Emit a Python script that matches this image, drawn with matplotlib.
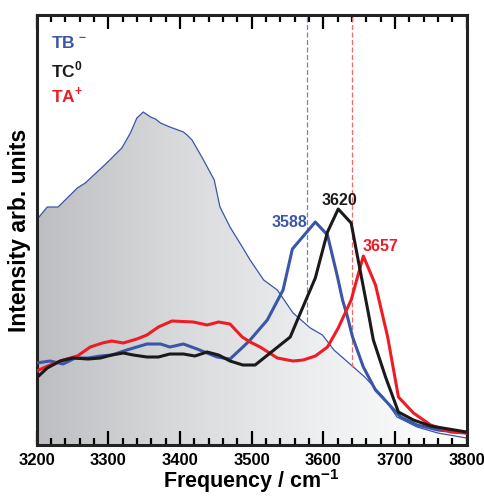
import numpy as np
import matplotlib
matplotlib.use("Agg")
import matplotlib.pyplot as plt
from matplotlib.colors import LinearSegmentedColormap

plt.rcParams['font.family'] = ['Liberation Sans', 'DejaVu Sans']
plt.rcParams['font.weight'] = 'bold'
plt.rcParams['mathtext.fontset'] = 'custom'
plt.rcParams['mathtext.rm'] = 'Liberation Sans:bold'
plt.rcParams['mathtext.bf'] = 'Liberation Sans:bold'

# broad background spectrum (thin blue, filled)
bg_freq = [3200, 3215, 3230, 3257, 3268, 3298, 3319, 3331, 3340, 3349, 3359, 3366,
           3373, 3386, 3405, 3410, 3417, 3433, 3448, 3456, 3470, 3488, 3498, 3517,
           3536, 3558, 3582, 3599, 3615, 3639, 3658, 3684, 3703, 3731, 3760, 3800]
bg_int = [225, 238, 238, 257, 262, 282, 297, 312, 327, 333, 328, 326,
          322, 318, 313, 310, 305, 285, 265, 238, 218, 197, 185, 165,
          155, 132, 117, 110, 95, 80, 68, 48, 28, 18, 12, 7]

# TB- (blue)
tb_freq = [3200, 3219, 3237, 3254, 3272, 3289, 3305, 3326, 3354, 3373, 3386, 3405,
           3424, 3452, 3470, 3488, 3498, 3522, 3544, 3557, 3589, 3606, 3620, 3627,
           3634, 3641, 3656, 3673, 3690, 3708, 3731, 3760, 3800]
tb_int = [82, 84, 81, 87, 87, 89, 90, 95, 101, 101, 98, 101,
          96, 88, 86, 98, 105, 125, 155, 196, 223, 210, 168, 145,
          128, 108, 78, 55, 42, 28, 20, 15, 12]

# TC0 (black)
tc_freq = [3200, 3215, 3233, 3251, 3272, 3289, 3305, 3321, 3335, 3354, 3370, 3386,
           3405, 3421, 3438, 3454, 3470, 3488, 3505, 3526, 3554, 3564, 3589, 3606,
           3621, 3639, 3648, 3663, 3670, 3687, 3705, 3726, 3750, 3800]
tc_int = [67, 77, 84, 87, 86, 87, 90, 92, 90, 88, 88, 91,
          91, 89, 93, 90, 84, 80, 80, 92, 108, 125, 167, 213,
          236, 222, 188, 132, 105, 68, 33, 25, 19, 13]

# TA+ (red)
ta_freq = [3200, 3219, 3237, 3257, 3275, 3292, 3305, 3321, 3340, 3354, 3370, 3389,
           3419, 3438, 3454, 3470, 3487, 3498, 3512, 3536, 3558, 3572, 3589, 3606,
           3621, 3639, 3656, 3673, 3690, 3705, 3726, 3750, 3778, 3800]
ta_int = [74, 80, 85, 89, 98, 102, 104, 102, 106, 110, 118, 124,
          123, 120, 123, 121, 108, 103, 98, 87, 84, 85, 89, 98,
          117, 145, 189, 160, 108, 48, 32, 20, 13, 12]

blue = '#3a56a8'
red = '#ee1c25'
black = '#1a1a1a'

fig = plt.figure(figsize=(4.85, 4.98), dpi=100)
ax = fig.add_axes([0.0753, 0.1064, 0.8866, 0.8635])
ax.set_xlim(3200, 3800)
ax.set_ylim(0, 430)

# gradient fill under the broad spectrum
cmap = LinearSegmentedColormap.from_list('g', ['#bdbec1', '#d9dadc', '#eeeff0', '#ffffff'])
grad = np.linspace(0, 1, 256).reshape(1, -1)
img = ax.imshow(grad, extent=[3200, 3800, 0, 430], aspect='auto', cmap=cmap, zorder=1)
poly = ax.fill_between(bg_freq, bg_int, 0, color='none', zorder=1)
img.set_clip_path(poly.get_paths()[0], transform=ax.transData)
ax.plot(bg_freq, bg_int, color=blue, lw=0.9, zorder=2)

# dashed markers
ax.vlines(3578, 123, 430, colors='#6a86c8', linestyles=(0, (4, 2)), lw=0.9, zorder=2)
ax.vlines(3640, 78, 430, colors='#f06a6a', linestyles=(0, (4, 2)), lw=0.9, zorder=2)

ax.plot(tb_freq, tb_int, color=blue, lw=2.2, zorder=3)
ax.plot(ta_freq, ta_int, color=red, lw=2.2, zorder=3)
ax.plot(tc_freq, tc_int, color=black, lw=2.2, zorder=4)

# peak labels
ax.text(3553, 223, '3588', color=blue, fontsize=11.5, fontweight='bold', ha='center', va='center')
ax.text(3622, 244, '3620', color=black, fontsize=11.5, fontweight='bold', ha='center', va='center')
ax.text(3680, 199, '3657', color=red, fontsize=11.5, fontweight='bold', ha='center', va='center')

# legend text
ax.text(3220, 402, 'TB$^{\\,-}$', color=blue, fontsize=12.5, fontweight='bold', va='center')
ax.text(3220, 375, 'TC$^{0}$', color=black, fontsize=12.5, fontweight='bold', va='center')
ax.text(3220, 350, 'TA$^{+}$', color=red, fontsize=12.5, fontweight='bold', va='center')

ax.set_xticks(np.arange(3200, 3801, 100))
ax.set_xticks(np.arange(3200, 3801, 20), minor=True)
ax.set_yticks([])
ax.tick_params(axis='x', which='major', direction='in', top=True, length=10, width=1.6,
               labelsize=12, pad=6)
ax.tick_params(axis='x', which='minor', direction='in', top=True, length=5, width=1.6)
for s in ax.spines.values():
    s.set_linewidth(2.2)
    s.set_color('#222222')

ax.set_xlabel('Frequency / cm$^{-1}$', fontsize=15.5, fontweight='bold')
ax.xaxis.set_label_coords(0.5, -0.052)
ax.set_ylabel('Intensity arb. units', fontsize=16.5, fontweight='bold', labelpad=4)

fig.savefig('out.png', dpi=100)
